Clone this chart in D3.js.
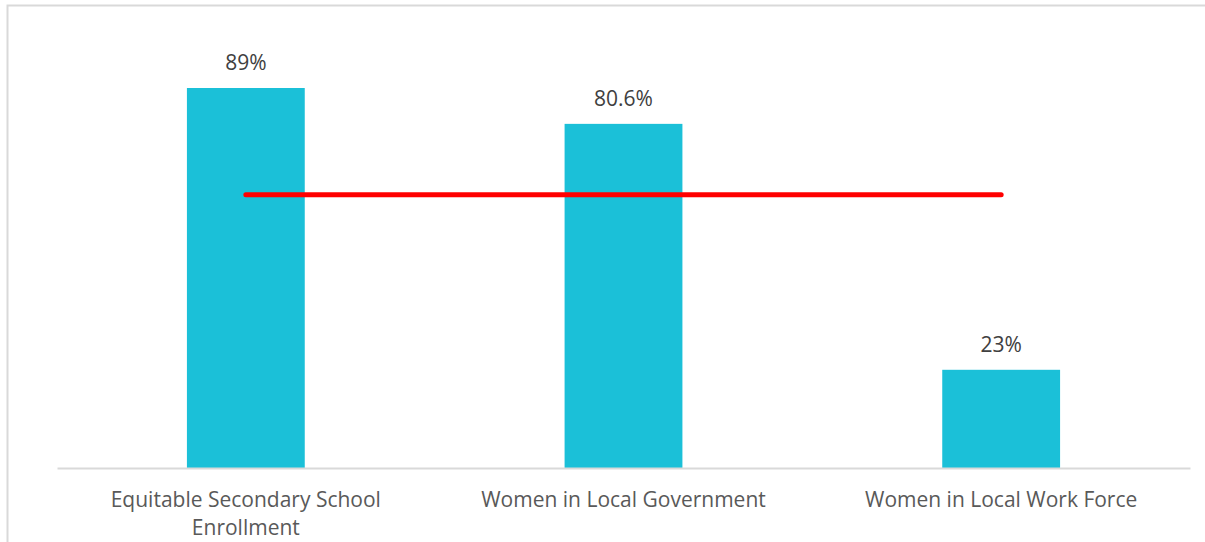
<!DOCTYPE html>
<html>
<head>
<meta charset="utf-8">
<script src="https://cdn.jsdelivr.net/npm/d3@7"></script>
<style>
  body { margin: 0; background: #fff; }
  svg { display: block; }
</style>
</head>
<body>
<div id="chart"></div>
<script>
// Chart data
var categories = ["Equitable Secondary School Enrollment", "Women in Local Government", "Women in Local Work Force"];
var values = [89, 80.6, 23];
var valueLabels = ["89%", "80.6%", "23%"];
var targetValue = 64;

var W = 1205, H = 542;
var margin = {top: 88, right: 15, bottom: 74, left: 57},
    width = W - margin.left - margin.right,
    height = H - margin.top - margin.bottom;

var svg = d3.select("#chart").append("svg")
    .attr("width", W)
    .attr("height", H);

// outer chart border
svg.append("rect")
    .attr("x", 7.5).attr("y", 5.5)
    .attr("width", W).attr("height", H)
    .attr("fill", "none")
    .attr("stroke", "#d9d9d9")
    .attr("stroke-width", 2);

var g = svg.append("g")
    .attr("transform", "translate(" + margin.left + "," + margin.top + ")");

var x = d3.scaleBand()
    .domain(categories)
    .range([0, width])
    .paddingInner(0.688)
    .paddingOuter(0.344);

var y = d3.scaleLinear()
    .domain([0, 89])
    .range([height, 0]);

// bars
g.selectAll(".bar")
    .data(values)
  .enter().append("rect")
    .attr("class", "bar")
    .attr("x", function(d, i) { return x(categories[i]); })
    .attr("width", x.bandwidth())
    .attr("y", function(d) { return y(d); })
    .attr("height", function(d) { return height - y(d); })
    .attr("fill", "#1bc0d8");

// value labels
g.selectAll(".val")
    .data(values)
  .enter().append("text")
    .attr("class", "val")
    .attr("x", function(d, i) { return x(categories[i]) + x.bandwidth() / 2; })
    .attr("y", function(d) { return y(d) - 18; })
    .attr("text-anchor", "middle")
    .style("font-family", "'Open Sans', sans-serif")
    .style("font-size", "21px")
    .style("fill", "#404040")
    .text(function(d, i) { return valueLabels[i]; });

// x axis
var xAxis = g.append("g")
    .attr("transform", "translate(0," + height + ")")
    .call(d3.axisBottom(x).tickSize(0).tickPadding(0));
xAxis.select(".domain").attr("stroke", "#d9d9d9").attr("stroke-width", 2);
xAxis.selectAll("text").remove();

// wrapped category labels
var wraps = [["Equitable Secondary School", "Enrollment"], ["Women in Local Government"], ["Women in Local Work Force"]];
categories.forEach(function(c, i) {
  var t = g.append("text")
      .attr("x", x(c) + x.bandwidth() / 2)
      .attr("y", height + 39)
      .attr("text-anchor", "middle")
      .style("font-family", "'Open Sans', sans-serif")
      .style("font-size", "21px")
      .style("fill", "#595959");
  wraps[i].forEach(function(line, j) {
    t.append("tspan")
      .attr("x", x(c) + x.bandwidth() / 2)
      .attr("dy", j === 0 ? 0 : 28)
      .text(line);
  });
});

// target line
g.append("line")
    .attr("x1", x(categories[0]) + x.bandwidth() / 2)
    .attr("x2", x(categories[2]) + x.bandwidth() / 2)
    .attr("y1", y(targetValue))
    .attr("y2", y(targetValue))
    .attr("stroke", "#ff0000")
    .attr("stroke-width", 5)
    .attr("stroke-linecap", "round");
</script>
</body>
</html>
